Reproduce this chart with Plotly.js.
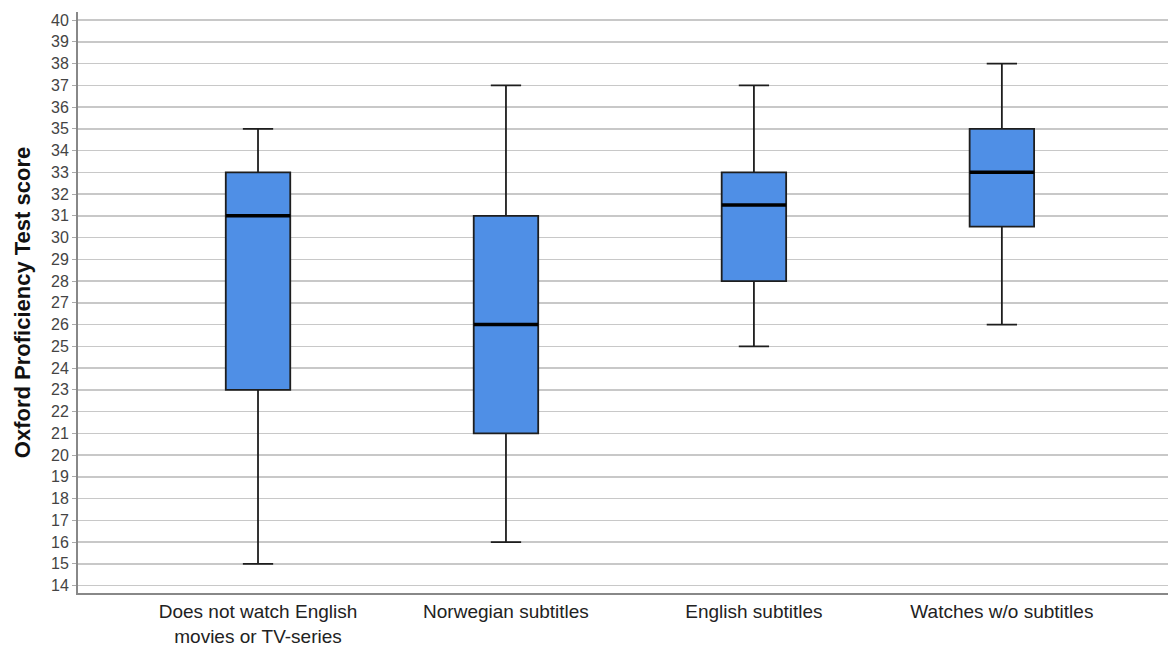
<!DOCTYPE html>
<html>
<head>
<meta charset="utf-8">
<script src="https://cdn.plot.ly/plotly-3.0.1.min.js"></script>
<style>html,body{margin:0;padding:0;background:#fff;}#chart{width:1168px;height:648px;}</style>
</head>
<body>
<div id="chart"></div>
<script>
// Data
var categories = ["Does not watch English<br>movies or TV-series", "Norwegian subtitles", "English subtitles", "Watches w/o subtitles"];
var lowerWhisker = [15, 16, 25, 26];
var q1Values     = [23, 21, 28, 30.5];
var medianValues = [31, 26, 31.5, 33];
var q3Values     = [33, 31, 33, 35];
var upperWhisker = [35, 37, 37, 38];
var yTicks = [14,15,16,17,18,19,20,21,22,23,24,25,26,27,28,29,30,31,32,33,34,35,36,37,38,39,40];

var positions = categories.map(function(c, i){ return i; });
var boxWidth = 0.26;

var boxTrace = {
  type: 'box',
  x: positions,
  lowerfence: lowerWhisker,
  q1: q1Values,
  median: medianValues,
  q3: q3Values,
  upperfence: upperWhisker,
  width: boxWidth,
  whiskerwidth: 0.47,
  fillcolor: '#4f8fe6',
  line: {color: '#1e1e1e', width: 1.8},
  boxpoints: false,
  hoverinfo: 'skip',
  showlegend: false
};

// Thick median lines (drawn from the median array)
var mx = [], my = [];
positions.forEach(function(p, i){
  mx.push(p - boxWidth/2, p + boxWidth/2, null);
  my.push(medianValues[i], medianValues[i], null);
});
var medianTrace = {
  type: 'scatter', mode: 'lines',
  x: mx, y: my,
  line: {color: '#000000', width: 3.5},
  hoverinfo: 'skip', showlegend: false
};

var layout = {
  width: 1168, height: 648,
  margin: {l: 78, r: 0, t: 12, b: 55},
  paper_bgcolor: '#ffffff', plot_bgcolor: '#ffffff',
  font: {family: 'Liberation Sans, Arial, sans-serif', color: '#222'},
  xaxis: {
    range: [-0.726, 3.67],
    tickmode: 'array', tickvals: positions, ticktext: categories,
    tickfont: {size: 19, color: '#222'},
    ticklabelstandoff: 0,
    showgrid: false, zeroline: false,
    showline: true, linecolor: '#888888', linewidth: 2,
    ticks: '', ticklen: 0
  },
  yaxis: {
    range: [13.66, 40.37],
    tickmode: 'array', tickvals: yTicks,
    tickfont: {size: 16, color: '#444'},
    showgrid: true, gridcolor: '#c8c8c8', gridwidth: 1.6,
    zeroline: false,
    showline: true, linecolor: '#888888', linewidth: 2,
    ticks: 'outside', ticklen: 4, tickcolor: '#aaaaaa', tickwidth: 1,
    title: {text: 'Oxford Proficiency Test score', font: {size: 22, color: '#111', weight: 'bold'}, standoff: 14}
  }
};

Plotly.newPlot('chart', [boxTrace, medianTrace], layout, {staticPlot: true, displayModeBar: false});
</script>
</body>
</html>
